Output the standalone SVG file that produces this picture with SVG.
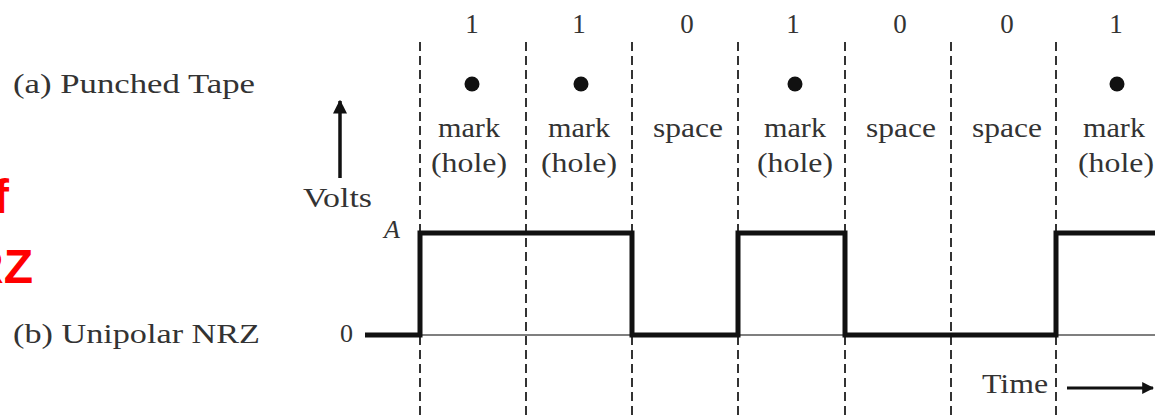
<svg xmlns="http://www.w3.org/2000/svg" width="1155" height="419" viewBox="0 0 1155 419">
<style>
.lbl{font-family:"Liberation Serif","Times New Roman",serif;fill:#333;}
.big{font-size:27px;}
.cell{font-size:27px;text-anchor:middle;}
.dash{stroke:#333;stroke-width:2;stroke-dasharray:9 5;fill:none;}
.wave{stroke:#111;stroke-width:5;fill:none;stroke-linejoin:miter;}
.red{font-family:"Liberation Sans",Arial,sans-serif;font-weight:bold;font-size:48px;fill:#ff0000;}
</style>
<defs>
<marker id="ah" viewBox="0 0 10 10" refX="9" refY="5" markerWidth="4" markerHeight="4" orient="auto" markerUnits="strokeWidth">
<path d="M0,0 L10,5 L0,10 Z" fill="#111"/>
</marker>
</defs>
<rect width="1155" height="419" fill="#fff"/>
<g id="red-fragments">
<text class="red" x="9" y="213" text-anchor="end">f</text>
<text class="red" x="33" y="283" text-anchor="end">RZ</text>
</g>
<g id="label-a"><text class="lbl big" x="13" y="93" textLength="242" lengthAdjust="spacingAndGlyphs">(a) Punched Tape</text></g>
<g id="label-b"><text class="lbl big" x="13" y="343" textLength="247" lengthAdjust="spacingAndGlyphs">(b) Unipolar NRZ</text></g>
<g id="grid">
<line class="dash" x1="420" y1="42" x2="420" y2="419"/>
<line class="dash" x1="526" y1="42" x2="526" y2="419"/>
<line class="dash" x1="632" y1="42" x2="632" y2="419"/>
<line class="dash" x1="738" y1="42" x2="738" y2="419"/>
<line class="dash" x1="845" y1="42" x2="845" y2="419"/>
<line class="dash" x1="951" y1="42" x2="951" y2="419"/>
<line class="dash" x1="1056" y1="42" x2="1056" y2="419"/>
</g>
<g id="bits" class="lbl">
<text class="cell" x="472" y="33">1</text>
<text class="cell" x="579" y="33">1</text>
<text class="cell" x="687" y="33">0</text>
<text class="cell" x="793" y="33">1</text>
<text class="cell" x="900" y="33">0</text>
<text class="cell" x="1007" y="33">0</text>
<text class="cell" x="1116" y="33">1</text>
</g>
<g id="holes" fill="#111">
<circle cx="472" cy="84" r="7.5"/>
<circle cx="581" cy="84" r="7.5"/>
<circle cx="795" cy="84" r="7.5"/>
<circle cx="1117" cy="84" r="7.5"/>
</g>
<g id="cells" class="lbl">
<text class="cell" x="469" y="137" textLength="62" lengthAdjust="spacingAndGlyphs">mark</text>
<text class="cell" x="469" y="172" textLength="76" lengthAdjust="spacingAndGlyphs">(hole)</text>
<text class="cell" x="579" y="137" textLength="62" lengthAdjust="spacingAndGlyphs">mark</text>
<text class="cell" x="579" y="172" textLength="76" lengthAdjust="spacingAndGlyphs">(hole)</text>
<text class="cell" x="688" y="137" textLength="70" lengthAdjust="spacingAndGlyphs">space</text>
<text class="cell" x="795" y="137" textLength="62" lengthAdjust="spacingAndGlyphs">mark</text>
<text class="cell" x="795" y="172" textLength="76" lengthAdjust="spacingAndGlyphs">(hole)</text>
<text class="cell" x="901" y="137" textLength="70" lengthAdjust="spacingAndGlyphs">space</text>
<text class="cell" x="1007" y="137" textLength="70" lengthAdjust="spacingAndGlyphs">space</text>
<text class="cell" x="1114" y="137" textLength="62" lengthAdjust="spacingAndGlyphs">mark</text>
<text class="cell" x="1116" y="172" textLength="76" lengthAdjust="spacingAndGlyphs">(hole)</text>
</g>
<g id="axes">
<line x1="340" y1="178" x2="340" y2="101" stroke="#111" stroke-width="3.5" marker-end="url(#ah)"/>
<text class="lbl" x="303" y="207" font-size="27" textLength="69" lengthAdjust="spacingAndGlyphs">Volts</text>
<text class="lbl" x="384" y="238" font-size="26" font-style="italic">A</text>
<text class="lbl" x="340" y="342" font-size="26">0</text>
<line x1="365" y1="335" x2="1155" y2="335" stroke="#555" stroke-width="1.5"/>
<text class="lbl" x="982" y="393" font-size="27" textLength="66" lengthAdjust="spacingAndGlyphs">Time</text>
<line x1="1067" y1="388" x2="1153" y2="388" stroke="#111" stroke-width="3" marker-end="url(#ah)"/>
</g>
<g id="connectors">
<path class="wave" d="M365,335 H420 V233 H632 V335 H738 V233 H845 V335 H1056 V233 H1155"/>
</g>
</svg>
